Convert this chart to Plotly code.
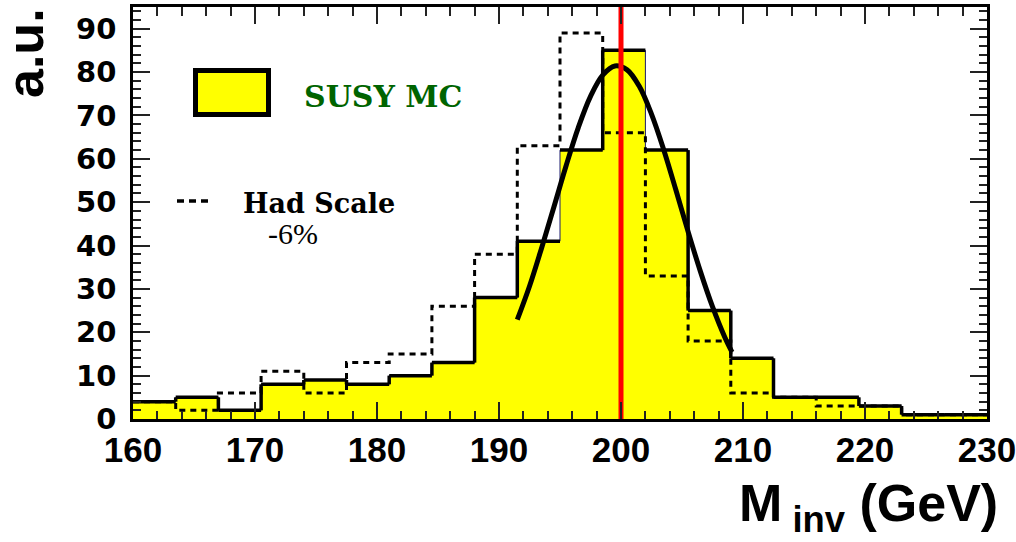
import plotly.graph_objects as go

# Invariant-mass histogram: 20 bins of 3.5 GeV between 160 and 230 GeV
bin_edges = [160.0, 163.5, 167.0, 170.5, 174.0, 177.5, 181.0, 184.5, 188.0, 191.5,
             195.0, 198.5, 202.0, 205.5, 209.0, 212.5, 216.0, 219.5, 223.0, 226.5, 230.0]
susy_mc = [4, 5, 2, 8, 9, 8, 10, 13, 28, 41, 62, 85, 62, 25, 14, 5, 5, 3, 1, 1]
had_scale_m6 = [4, 2, 6, 11, 6, 13, 15, 26, 38, 63, 89, 66, 33, 18, 6, 5, 3, 3, 1, 1]

# Gaussian fit to the core of the SUSY MC histogram
fit_x = [191.5, 192.5, 193.5, 194.5, 195.5, 196.5, 197.5, 198.5, 199.5, 200.5,
         201.5, 202.5, 203.5, 204.5, 205.5, 206.5, 207.5, 208.5, 209.1]
fit_y = [22.9, 30.6, 39.5, 48.9, 58.4, 67.2, 74.4, 79.3, 81.4, 80.5,
         76.7, 70.3, 62.1, 52.8, 43.2, 34.1, 25.9, 18.9, 15.4]

true_mass = 200.0
x_ticks = [160, 170, 180, 190, 200, 210, 220, 230]
y_ticks = [0, 10, 20, 30, 40, 50, 60, 70, 80, 90]
x_range = [160, 230]
y_range = [0, 95]

# plot-area geometry in pixels (for placing text in paper coordinates)
W, H = 1016, 542
L, R, T, B = 133, 29, 7, 123
PW, PH = W - L - R, H - T - B


def px(xp):
    return (xp - L) / PW


def py(yp):
    return (H - B - yp) / PH


def step_xy(edges, vals):
    return list(edges), list(vals) + [vals[-1]]


fig = go.Figure()

# yellow filled histogram with thin navy edge
sx, sy = step_xy(bin_edges, susy_mc)
fig.add_trace(go.Scatter(x=sx, y=sy, mode="lines", line=dict(shape="hv", color="#1a1a6e", width=1),
                         fill="tozeroy", fillcolor="#ffff00", hoverinfo="skip"))

# thick black outline (two edges in the core stay thin)
thin_edges = {195.0, 202.0}
ox, oy = [], []
for i, v in enumerate(susy_mc):
    ox += [bin_edges[i], bin_edges[i + 1], None]
    oy += [v, v, None]
for i in range(1, len(susy_mc)):
    if bin_edges[i] in thin_edges:
        continue
    ox += [bin_edges[i], bin_edges[i], None]
    oy += [susy_mc[i - 1], susy_mc[i], None]
fig.add_trace(go.Scatter(x=ox, y=oy, mode="lines", line=dict(color="black", width=3.5),
                         hoverinfo="skip", connectgaps=False))

# hadronic scale -6% variation, dotted step line
dx, dy = step_xy(bin_edges, had_scale_m6)
fig.add_trace(go.Scatter(x=dx, y=dy, mode="lines",
                         line=dict(shape="hv", color="black", width=3, dash="6px,5px"),
                         hoverinfo="skip"))

# gaussian fit
fig.add_trace(go.Scatter(x=fit_x, y=fit_y, mode="lines",
                         line=dict(shape="spline", color="black", width=5), hoverinfo="skip"))

# nominal mass marker
fig.add_trace(go.Scatter(x=[true_mass, true_mass], y=y_range, mode="lines",
                         line=dict(color="#ff0000", width=5), hoverinfo="skip"))

# empty trace that carries the top/right tick axes
fig.add_trace(go.Scatter(x=[], y=[], xaxis="x2", yaxis="y2", hoverinfo="skip"))

tick_style = dict(ticks="inside", ticklen=17, tickwidth=1.5, tickcolor="#222222")
minor_style = dict(dtick=2, ticks="inside", ticklen=8.5, tickwidth=1.5, tickcolor="#222222")
frame_common = dict(showgrid=False, zeroline=False, automargin=False, layer="above traces")

fig.update_layout(
    xaxis=dict(range=x_range, tickvals=x_ticks, ticktext=[str(t) for t in x_ticks],
               tickfont=dict(family="Liberation Sans", size=35, color="black", weight="bold"),
               ticklabelstandoff=-2, ticklabeloverflow="allow",
               showline=True, linecolor="black", linewidth=2.5, mirror=True,
               minor=minor_style, **tick_style, **frame_common),
    yaxis=dict(range=y_range, tickvals=y_ticks, ticktext=[str(t) for t in y_ticks],
               tickfont=dict(family="DejaVu Sans", size=29, color="black", weight="bold"),
               ticklabelstandoff=8, ticklabeloverflow="allow",
               showline=True, linecolor="black", linewidth=2.5, mirror=True,
               minor=minor_style, **tick_style, **frame_common),
    xaxis2=dict(range=x_range, overlaying="x", side="top", tickvals=x_ticks, showticklabels=False,
                showline=False, minor=minor_style, **tick_style, **frame_common),
    yaxis2=dict(range=y_range, overlaying="y", side="right", tickvals=y_ticks, showticklabels=False,
                showline=False, minor=minor_style, **tick_style, **frame_common),
)

# legend: yellow box + dotted sample line
fig.add_shape(type="rect", xref="paper", yref="paper",
              x0=px(195.5), x1=px(268.5), y0=py(114.5), y1=py(70.5),
              fillcolor="#ffff00", line=dict(color="black", width=5))
fig.add_shape(type="line", xref="paper", yref="paper",
              x0=px(177), x1=px(208), y0=py(201), y1=py(201),
              line=dict(color="black", width=3.5, dash="7px,5px"))

annotations = [
    dict(text="SUSY MC", x=px(302), y=py(96), xanchor="left", yanchor="middle",
         font=dict(family="DejaVu Serif", size=30, color="#006400", weight="bold")),
    dict(text="Had Scale", x=px(241), y=py(203), xanchor="left", yanchor="middle",
         font=dict(family="DejaVu Serif", size=27, color="black", weight="bold")),
    dict(text="-6%", x=px(266), y=py(233), xanchor="left", yanchor="middle",
         font=dict(family="Liberation Serif", size=30, color="black")),
    dict(text="a.u.", x=px(25), y=py(53), xanchor="center", yanchor="middle", textangle=-90,
         font=dict(family="Liberation Sans", size=52, color="black", weight="bold")),
    dict(text="M<sub> inv</sub> (GeV)", x=px(1000), y=py(507), xanchor="right", yanchor="middle",
         font=dict(family="Liberation Sans", size=52, color="black", weight="bold")),
]
for a in annotations:
    fig.add_annotation(xref="paper", yref="paper", showarrow=False, **a)

fig.update_layout(
    width=W, height=H, margin=dict(l=L, r=R, t=T, b=B, autoexpand=False),
    paper_bgcolor="white", plot_bgcolor="white", showlegend=False,
)

fig.write_html("out.html", config={"displayModeBar": False})
